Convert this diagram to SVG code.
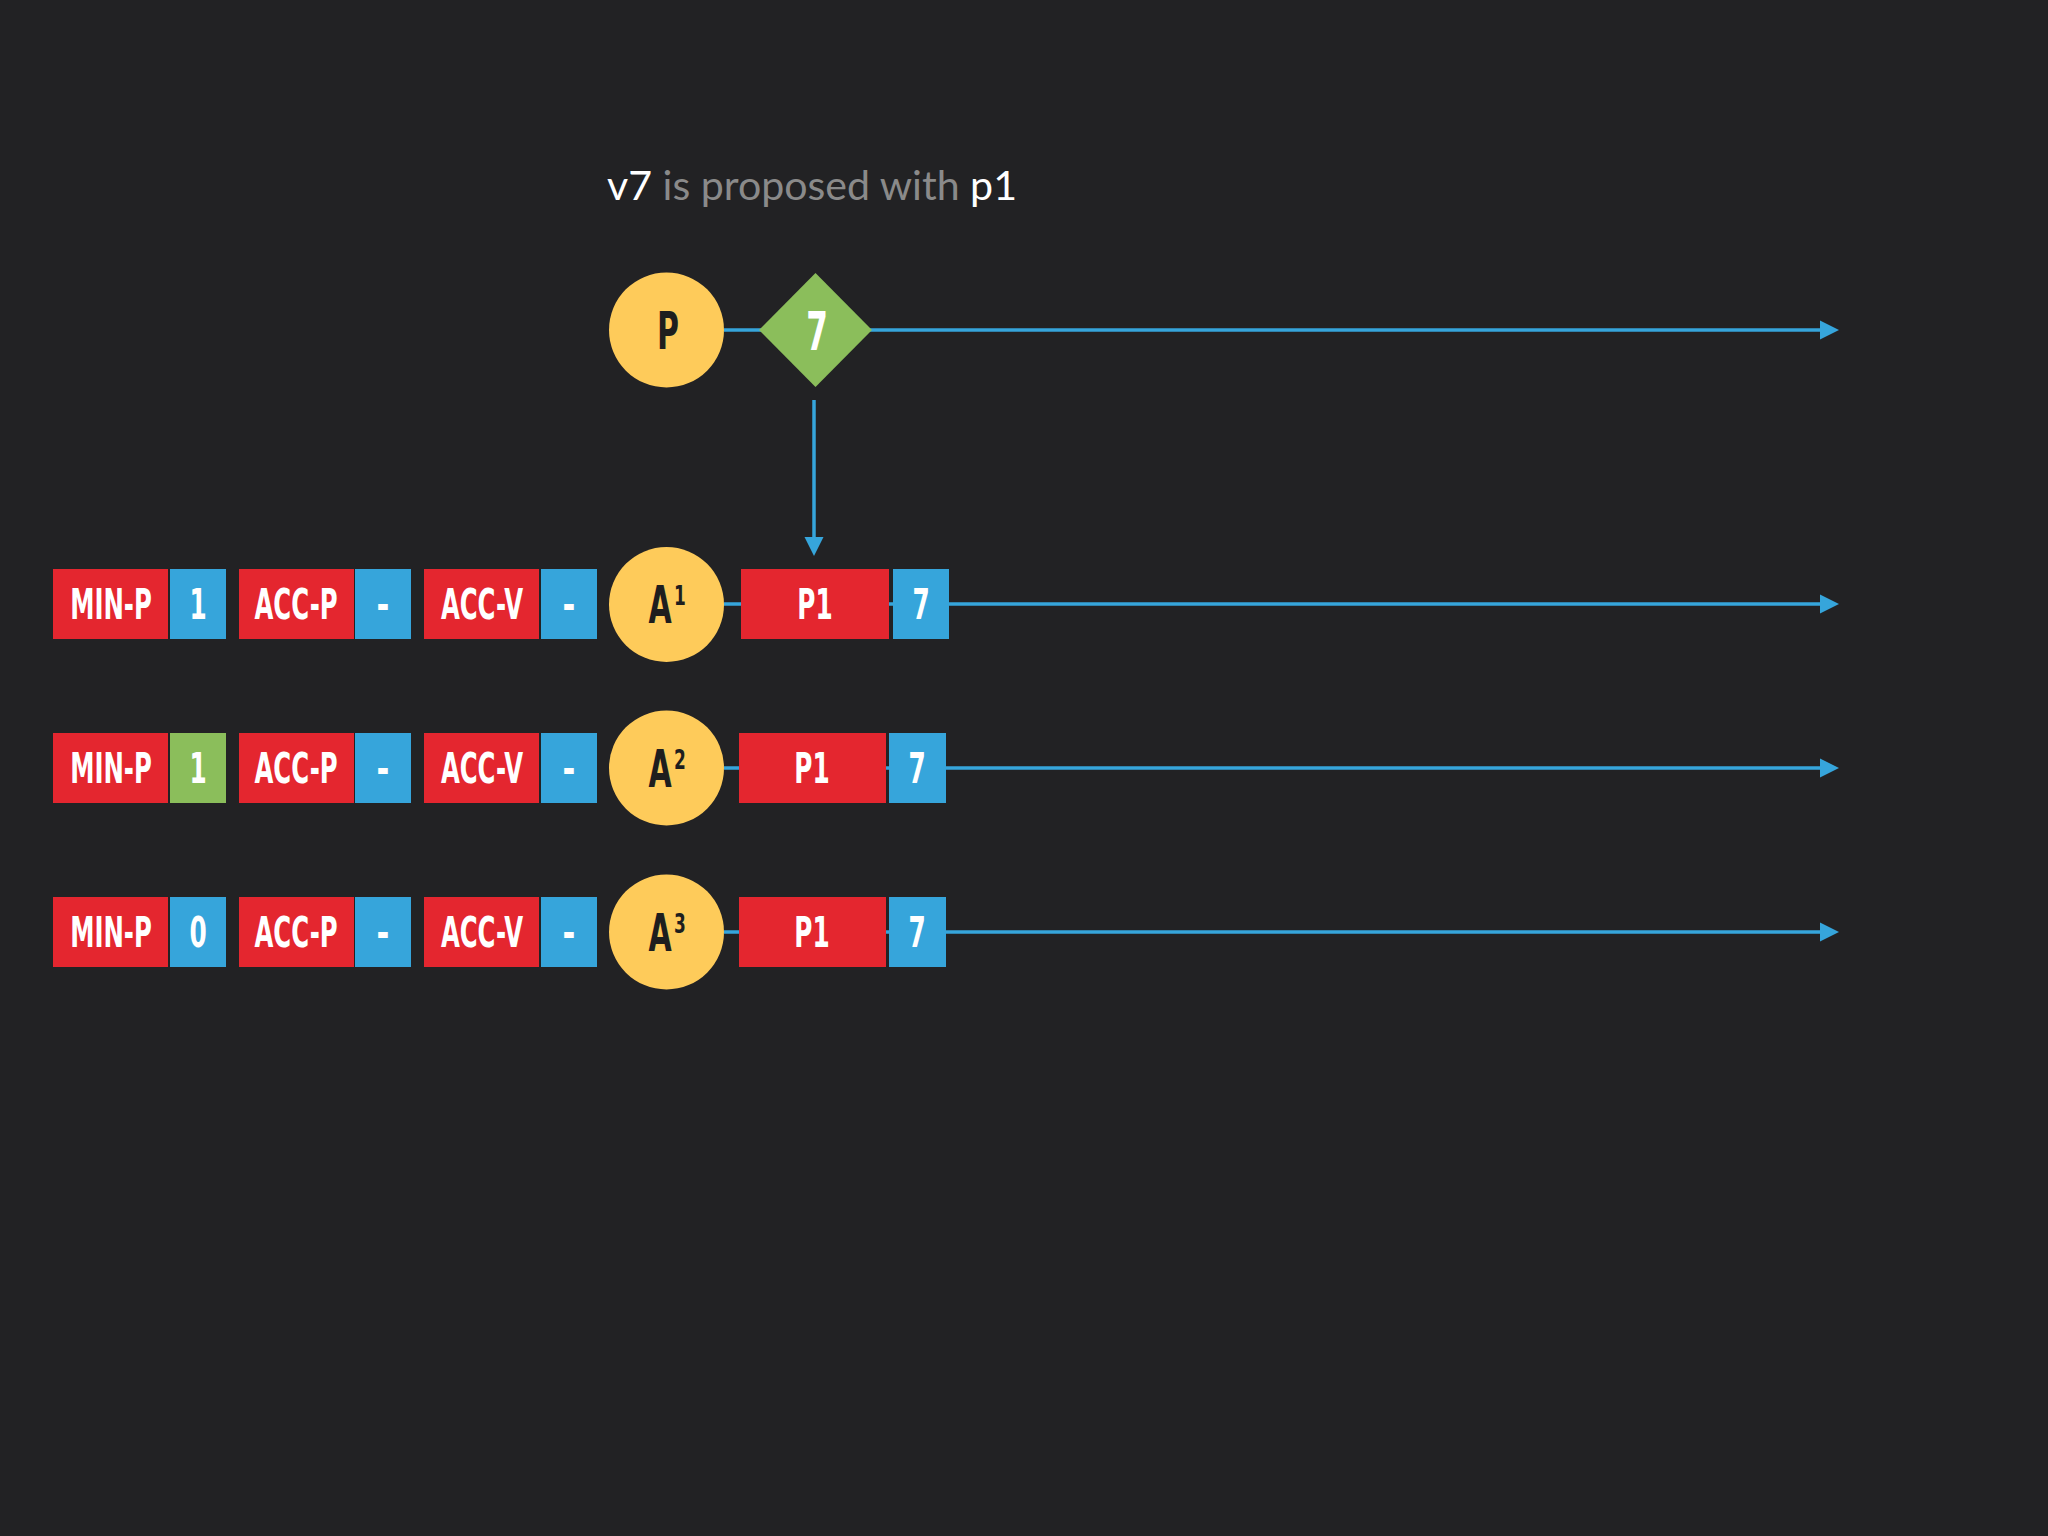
<svg xmlns="http://www.w3.org/2000/svg" width="2048" height="1536" viewBox="0 0 2048 1536">
<defs>
<style>
.bg{fill:#222224}
.red{fill:#E4262F}
.blue{fill:#36A5DB}
.green{fill:#8BBE5B}
.yel{fill:#FECB5A}
.lt{font-family:"DejaVu Sans Condensed","Liberation Sans Narrow","Liberation Sans",sans-serif;font-weight:600;fill:#ffffff;font-size:43px;text-anchor:middle}
.ct{font-family:"DejaVu Sans Condensed","Liberation Sans Narrow","Liberation Sans",sans-serif;font-weight:600;fill:#1e1e1e;font-size:52px;text-anchor:middle}
.sup{font-size:27px;text-anchor:start}
.edge{stroke:#36A5DB;stroke-width:3.5;fill:none}
.title{font-family:Lato,"Noto Sans",sans-serif;font-size:41px}
</style>
<marker id="ah" markerUnits="userSpaceOnUse" markerWidth="20" markerHeight="20" refX="0" refY="10" orient="auto" viewBox="0 0 20 20">
<path d="M0,0.5 L19,10 L0,19.5 Z" fill="#36A5DB"/>
</marker>
</defs>
<rect class="bg" x="0" y="0" width="2048" height="1536"/>

<text class="title" x="607" y="200" textLength="410" lengthAdjust="spacingAndGlyphs"><tspan fill="#ffffff">v7</tspan><tspan fill="#8a8a8a"> is proposed with </tspan><tspan fill="#ffffff">p1</tspan></text>

<g id="connectors">
<line class="edge" x1="724" y1="330" x2="1820" y2="330" marker-end="url(#ah)"/>
<line class="edge" x1="814" y1="400" x2="814" y2="537" marker-end="url(#ah)"/>
<line class="edge" x1="724" y1="604" x2="1820" y2="604" marker-end="url(#ah)"/>
<line class="edge" x1="724" y1="768" x2="1820" y2="768" marker-end="url(#ah)"/>
<line class="edge" x1="724" y1="932" x2="1820" y2="932" marker-end="url(#ah)"/>
</g>

<g id="proposer">
<circle class="yel" cx="666.5" cy="330" r="57.5"/>
<text class="ct" transform="translate(668,349) scale(0.64,1)">P</text>
</g>
<g id="value7">
<polygon class="green" points="815.5,273 872,330 815.5,387 759,330"/>
<text class="lt" style="font-size:54px" transform="translate(817,350) scale(0.64,1)">7</text>
</g>

<g id="row1">
<g id="a1-minp"><rect class="red" x="53" y="569" width="115" height="70"/><rect class="blue" x="170" y="569" width="56" height="70"/>
<text class="lt" transform="translate(111,619) scale(0.63,1)">MIN-P</text><text class="lt" transform="translate(198,619) scale(0.64,1)">1</text></g>
<g id="a1-accp"><rect class="red" x="239" y="569" width="115" height="70"/><rect class="blue" x="355" y="569" width="56" height="70"/>
<text class="lt" transform="translate(296,619) scale(0.63,1)">ACC-P</text><text class="lt" transform="translate(383,619) scale(0.8,1)">-</text></g>
<g id="a1-accv"><rect class="red" x="424" y="569" width="115" height="70"/><rect class="blue" x="541" y="569" width="56" height="70"/>
<text class="lt" transform="translate(482,619) scale(0.63,1)">ACC-V</text><text class="lt" transform="translate(569,619) scale(0.8,1)">-</text></g>
<g id="a1"><circle class="yel" cx="666.5" cy="604.5" r="57.5"/>
<text class="ct" transform="translate(660,623) scale(0.64,1)">A</text><text class="ct sup" transform="translate(674,605) scale(0.7,1)">1</text></g>
<g id="a1-p1"><rect class="red" x="741" y="569" width="148" height="70"/><text class="lt" transform="translate(815,619) scale(0.64,1)">P1</text></g>
<g id="a1-v7"><rect class="blue" x="893" y="569" width="56" height="70"/><text class="lt" transform="translate(921,619) scale(0.64,1)">7</text></g>
</g>

<g id="row2">
<g id="a2-minp"><rect class="red" x="53" y="733" width="115" height="70"/><rect class="green" x="170" y="733" width="56" height="70"/>
<text class="lt" transform="translate(111,783) scale(0.63,1)">MIN-P</text><text class="lt" transform="translate(198,783) scale(0.64,1)">1</text></g>
<g id="a2-accp"><rect class="red" x="239" y="733" width="115" height="70"/><rect class="blue" x="355" y="733" width="56" height="70"/>
<text class="lt" transform="translate(296,783) scale(0.63,1)">ACC-P</text><text class="lt" transform="translate(383,783) scale(0.8,1)">-</text></g>
<g id="a2-accv"><rect class="red" x="424" y="733" width="115" height="70"/><rect class="blue" x="541" y="733" width="56" height="70"/>
<text class="lt" transform="translate(482,783) scale(0.63,1)">ACC-V</text><text class="lt" transform="translate(569,783) scale(0.8,1)">-</text></g>
<g id="a2"><circle class="yel" cx="666.5" cy="768" r="57.5"/>
<text class="ct" transform="translate(660,787) scale(0.64,1)">A</text><text class="ct sup" transform="translate(674,769) scale(0.7,1)">2</text></g>
<g id="a2-p1"><rect class="red" x="739" y="733" width="147" height="70"/><text class="lt" transform="translate(812,783) scale(0.64,1)">P1</text></g>
<g id="a2-v7"><rect class="blue" x="889" y="733" width="57" height="70"/><text class="lt" transform="translate(917,783) scale(0.64,1)">7</text></g>
</g>

<g id="row3">
<g id="a3-minp"><rect class="red" x="53" y="897" width="115" height="70"/><rect class="blue" x="170" y="897" width="56" height="70"/>
<text class="lt" transform="translate(111,947) scale(0.63,1)">MIN-P</text><text class="lt" transform="translate(198,947) scale(0.64,1)">0</text></g>
<g id="a3-accp"><rect class="red" x="239" y="897" width="115" height="70"/><rect class="blue" x="355" y="897" width="56" height="70"/>
<text class="lt" transform="translate(296,947) scale(0.63,1)">ACC-P</text><text class="lt" transform="translate(383,947) scale(0.8,1)">-</text></g>
<g id="a3-accv"><rect class="red" x="424" y="897" width="115" height="70"/><rect class="blue" x="541" y="897" width="56" height="70"/>
<text class="lt" transform="translate(482,947) scale(0.63,1)">ACC-V</text><text class="lt" transform="translate(569,947) scale(0.8,1)">-</text></g>
<g id="a3"><circle class="yel" cx="666.5" cy="932" r="57.5"/>
<text class="ct" transform="translate(660,951) scale(0.64,1)">A</text><text class="ct sup" transform="translate(674,933) scale(0.7,1)">3</text></g>
<g id="a3-p1"><rect class="red" x="739" y="897" width="147" height="70"/><text class="lt" transform="translate(812,947) scale(0.64,1)">P1</text></g>
<g id="a3-v7"><rect class="blue" x="889" y="897" width="57" height="70"/><text class="lt" transform="translate(917,947) scale(0.64,1)">7</text></g>
</g>
</svg>
